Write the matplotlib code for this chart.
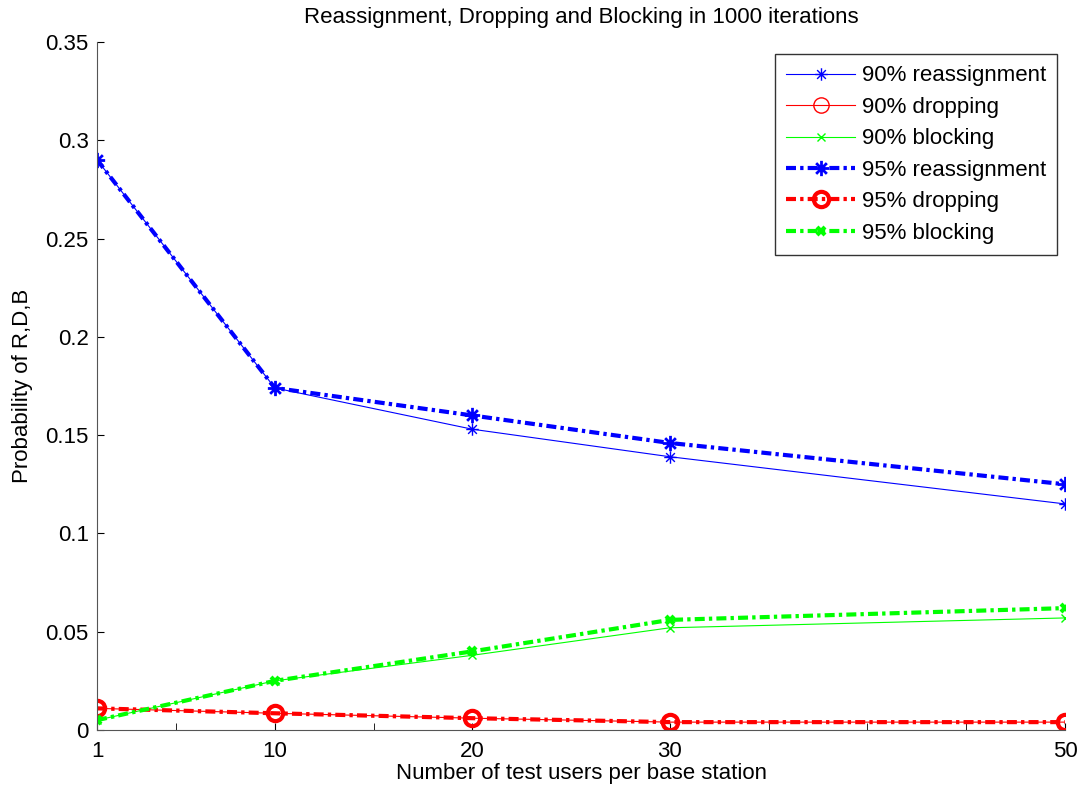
import matplotlib
matplotlib.use("Agg")
import matplotlib.pyplot as plt
from matplotlib.path import Path

plt.rcParams['font.family'] = ['Liberation Sans', 'DejaVu Sans']

users = [1, 10, 20, 30, 50]
reassign_90 = [0.290, 0.174, 0.153, 0.139, 0.115]
dropping_90 = [0.011, 0.0085, 0.006, 0.004, 0.004]
blocking_90 = [0.005, 0.025, 0.038, 0.052, 0.057]
reassign_95 = [0.290, 0.174, 0.160, 0.146, 0.125]
dropping_95 = [0.011, 0.0085, 0.006, 0.004, 0.004]
blocking_95 = [0.005, 0.025, 0.040, 0.056, 0.062]

x_major = [1, 10, 20, 30, 50]
x_minor = [5, 15, 35, 40, 45]
y_ticks = [0, 0.05, 0.1, 0.15, 0.2, 0.25, 0.3, 0.35]
y_labels = ['0', '0.05', '0.1', '0.15', '0.2', '0.25', '0.3', '0.35']

# matlab style asterisk (+ and x on top of each other)
asterisk = Path([(0, -1), (0, 1), (-1, 0), (1, 0),
                 (-0.7, -0.7), (0.7, 0.7), (-0.7, 0.7), (0.7, -0.7)],
                [Path.MOVETO, Path.LINETO] * 4)

fig = plt.figure(figsize=(10.88, 7.92), dpi=100)
ax = fig.add_axes([0.0892, 0.0783, 0.8897, 0.8687])

dd = (0, (2.4, 1.0, 0.8, 1.0))
ax.plot(users, reassign_90, color='blue', lw=0.8, marker=asterisk, ms=9, mfc='none', mew=1, label='90% reassignment')
ax.plot(users, dropping_90, color='red', lw=0.8, marker='o', ms=11, mfc='none', mew=1, label='90% dropping')
ax.plot(users, blocking_90, color='#00ff00', lw=0.8, marker='x', ms=6, mew=1, label='90% blocking')
ax.plot(users, reassign_95, color='blue', lw=3, linestyle=dd, marker=asterisk, ms=11, mfc='none', mew=2, label='95% reassignment')
ax.plot(users, dropping_95, color='red', lw=3, linestyle=dd, marker='o', ms=11, mfc='none', mew=3, label='95% dropping')
ax.plot(users, blocking_95, color='#00ff00', lw=3, linestyle=dd, marker='x', ms=6, mew=3, label='95% blocking')

ax.set_xlim(1, 50)
ax.set_ylim(0, 0.35)
ax.set_xticks(x_major)
ax.set_xticks(x_minor, minor=True)
ax.set_yticks(y_ticks)
ax.set_yticklabels(y_labels)
ax.tick_params(direction='in', length=5, labelsize=16, color='black')
ax.tick_params(which='minor', direction='in', length=5)
ax.tick_params(axis='x', pad=8)
ax.tick_params(axis='y', pad=6)

for side in ['top', 'right']:
    ax.spines[side].set_visible(False)
for side in ['left', 'bottom']:
    ax.spines[side].set_color('#555555')

ax.set_title('Reassignment, Dropping and Blocking in 1000 iterations', fontsize=16, pad=14)
ax.set_xlabel('Number of test users per base station', fontsize=16, labelpad=1)
ax.set_ylabel('Probability of R,D,B', fontsize=16, labelpad=9)

leg = ax.legend(loc='upper right', fontsize=16, frameon=True, fancybox=False,
                edgecolor='black', handlelength=3.1, handletextpad=0.3,
                borderpad=0.5, labelspacing=0.47, borderaxespad=0,
                bbox_to_anchor=(0.9917, 0.982))
leg.get_frame().set_linewidth(1)

fig.savefig('out.png', dpi=100)
